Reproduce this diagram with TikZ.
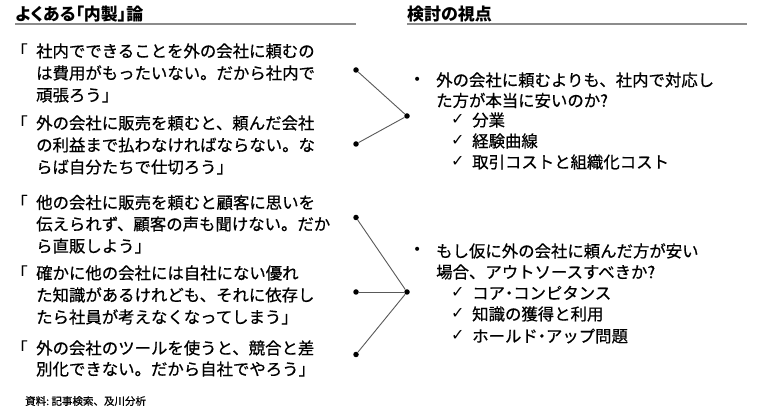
\documentclass[tikz,border=0pt]{standalone}
\usepackage{fontspec}
\setmainfont[FakeBold=0.6]{Noto Sans CJK JP}
\newfontfamily\jphead[RawFeature=+palt]{Noto Sans CJK JP}
\newfontfamily\jpprop[RawFeature=+palt,FakeBold=0.6]{Noto Sans CJK JP}
\newfontfamily\symfont{DejaVu Sans}
\newcommand\nakaguro{{\jpprop ・}}
\begin{document}
\begin{tikzpicture}[x=1pt,y=-1pt]
\tikzset{
  txt/.style={anchor=base west, inner sep=0pt, font=\fontsize{16.4}{16.4}\selectfont},
  hd/.style={anchor=base west, inner sep=0pt, font=\jphead\fontsize{17}{17}\selectfont\bfseries},
  foot/.style={anchor=base west, inner sep=0pt, font=\fontsize{10.5}{10.5}\selectfont},
  bul/.style={anchor=base, inner sep=0pt, font=\symfont\fontsize{14}{14}\selectfont},
  chk/.style={anchor=base west, inner sep=0pt, font=\symfont\fontsize{16}{16}\selectfont},
  dotn/.style={circle, fill=black, inner sep=0pt, minimum size=5.5pt},
  conn/.style={draw=black!65, line width=0.9pt},
  rulel/.style={draw=black!45, line width=2pt},
}
\fill[white] (0,0) rectangle (766,411);
\useasboundingbox (0,0) rectangle (766,411);

% headers
\node[hd] (hl) at (15,20.5) {よくある「内製」論};
\node[hd] (hr) at (407,20.5) {検討の視点};
\coordinate (hl1) at (15,24.5);
\coordinate (hl2) at (356,24.5);
\coordinate (hr1) at (407,24.5);
\coordinate (hr2) at (747,24.5);
\draw[rulel] (hl1) -- (hl2);
\draw[rulel] (hr1) -- (hr2);

% left quotes
\newcommand\tl[3]{\node[txt] at (#1,#2+6.2) {#3};}
\newcommand\ql[1]{\node[txt] at (11,#1+6.2) {「};}

\ql{51}
\tl{36}{51}{社内でできることを外の会社に頼むの}
\tl{36}{73}{は費用がもったいない。だから社内で}
\tl{36}{95}{頑張ろう」}

\ql{123}
\tl{36}{123}{外の会社に販売を頼むと、頼んだ会社}
\tl{36}{145}{の利益まで払わなければならない。な}
\tl{36}{167}{らば自分たちで仕切ろう」}

\ql{202.5}
\tl{36}{202.5}{他の会社に販売を頼むと顧客に思いを}
\tl{36}{224}{伝えられず、顧客の声も聞けない。だか}
\tl{36}{246}{ら直販しよう」}

\ql{273}
\tl{36}{273}{確かに他の会社には自社にない優れ}
\tl{36}{295}{た知識があるけれども、それに依存し}
\tl{36}{317}{たら社員が考えなくなってしまう」}

\ql{348}
\tl{36}{348}{外の会社のツールを使うと、競合と差}
\tl{36}{369}{別化できない。だから自社でやろう」}

\node[foot] (src) at (25,405) {資料:\ 記事検索、及川分析};

% right side
\newcommand\bl[1]{\node[bul] at (417.3,#1+4.5) {•};}
\newcommand\ck[1]{\node[chk] at (451,#1+5) {✓};}

\bl{80}
\tl{436}{80}{外の会社に頼むよりも、社内で対応し}
\tl{436}{100.5}{た方が本当に安いのか?}
\ck{120}\tl{472}{120}{分業}
\ck{141}\tl{472}{141}{経験曲線}
\ck{162}\tl{472}{162}{取引コストと組織化コスト}

\bl{250}
\tl{436}{251}{もし仮に外の会社に頼んだ方が安い}
\tl{436}{272}{場合、アウトソースすべきか?}
\ck{293}\tl{472}{293}{コア\nakaguro コンピタンス}
\ck{314}\tl{472}{314}{知識の獲得と利用}
\ck{336}\tl{472}{336}{ホールド\nakaguro アップ問題}

% connectors
\node[dotn] (d1) at (356,70) {};
\node[dotn] (d2) at (356,144) {};
\node[dotn] (d3) at (356,217.5) {};
\node[dotn] (d4) at (356,292) {};
\node[dotn] (d5) at (356,354.5) {};
\node[dotn] (h1) at (407,116) {};
\node[dotn] (h2) at (407,292) {};
\draw[conn] (d1) -- (h1);
\draw[conn] (d2) -- (h1);
\draw[conn] (d3) -- (h2);
\draw[conn] (d4) -- (h2);
\draw[conn] (d5) -- (h2);
\end{tikzpicture}
\end{document}
